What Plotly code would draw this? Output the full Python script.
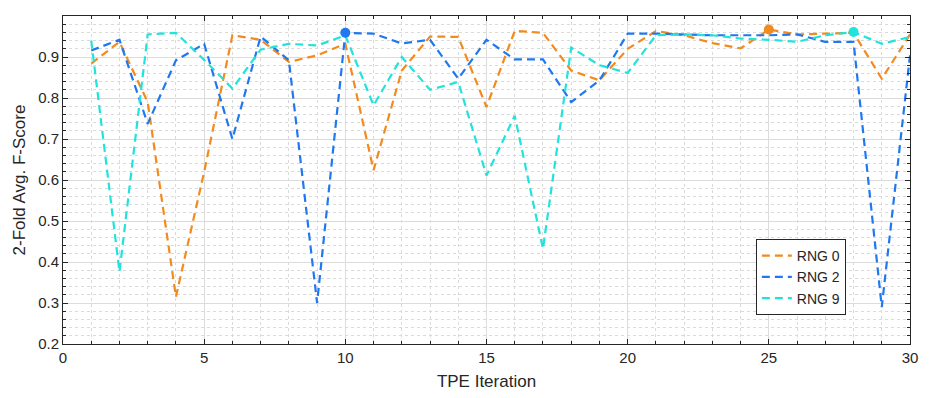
import plotly.graph_objects as go

iterations = list(range(1, 31))
rng0 = [0.884, 0.937, 0.79, 0.315, 0.62, 0.953, 0.942, 0.888, 0.904, 0.932,
        0.624, 0.867, 0.950, 0.949, 0.778, 0.964, 0.959, 0.867, 0.843, 0.920,
        0.963, 0.953, 0.934, 0.921, 0.967, 0.955, 0.957, 0.959, 0.847, 0.955]
rng2 = [0.916, 0.942, 0.737, 0.892, 0.932, 0.700, 0.950, 0.892, 0.300, 0.959,
        0.957, 0.933, 0.942, 0.847, 0.942, 0.894, 0.894, 0.790, 0.843, 0.957,
        0.957, 0.955, 0.953, 0.953, 0.953, 0.955, 0.937, 0.937, 0.290, 0.904]
rng9 = [0.940, 0.376, 0.955, 0.959, 0.893, 0.823, 0.918, 0.932, 0.928, 0.953,
        0.782, 0.900, 0.820, 0.839, 0.611, 0.757, 0.432, 0.923, 0.880, 0.861,
        0.953, 0.955, 0.953, 0.945, 0.942, 0.937, 0.953, 0.961, 0.932, 0.949]
names = ["RNG 0", "RNG 2", "RNG 9"]
best_iters = [25, 10, 28]
colors = ["#F28A1E", "#1F78F0", "#22E2DC"]

FONT = "Liberation Sans, Arial"
fig = go.Figure()
for name, ys, col in zip(names, [rng0, rng2, rng9], colors):
    fig.add_trace(go.Scatter(x=iterations, y=ys, mode="lines", name=name,
                             line=dict(color=col, width=2.2, dash="8px,5px")))
for name, ys, col, b in zip(names, [rng0, rng2, rng9], colors, best_iters):
    fig.add_trace(go.Scatter(x=[b], y=[ys[b - 1]], mode="markers", showlegend=False,
                             marker=dict(color=col, size=10)))

axis_common = dict(
    showline=True, linecolor="#262626", linewidth=1, mirror="allticks",
    ticks="inside", ticklen=5, tickcolor="#262626",
    showgrid=True, gridcolor="#DCDCDC", gridwidth=1,
    zeroline=False, automargin=False,
    tickfont=dict(family=FONT, size=15, color="#262626"),
)

fig.update_xaxes(range=[0, 30], dtick=5, tick0=0,
                 title=dict(text="TPE Iteration", font=dict(family=FONT, size=17, color="#262626"), standoff=10),
                 minor=dict(dtick=1, showgrid=True, gridcolor="#DADADA", griddash="dot",
                            ticks="inside", ticklen=3, tickcolor="#262626"),
                 **axis_common)
fig.update_yaxes(range=[0.2, 1], dtick=0.1, tick0=0.2,
                 title=dict(text="2-Fold Avg. F-Score", font=dict(family=FONT, size=17, color="#262626"), standoff=8),
                 minor=dict(dtick=0.02, showgrid=True, gridcolor="#DADADA", griddash="dot",
                            ticks="inside", ticklen=3, tickcolor="#262626"),
                 **axis_common)

# page body has an 8px default margin, so the figure is sized to fit the window
fig.update_layout(
    width=921, height=390,
    margin=dict(l=55, r=19, t=8, b=54),
    plot_bgcolor="white", paper_bgcolor="white",
    legend=dict(x=0.818, y=0.32, xanchor="left", yanchor="top",
                bgcolor="white", bordercolor="#262626", borderwidth=1,
                font=dict(family=FONT, size=14, color="#262626"),
                tracegroupgap=0, itemwidth=30),
)

fig.write_html("out.html")
